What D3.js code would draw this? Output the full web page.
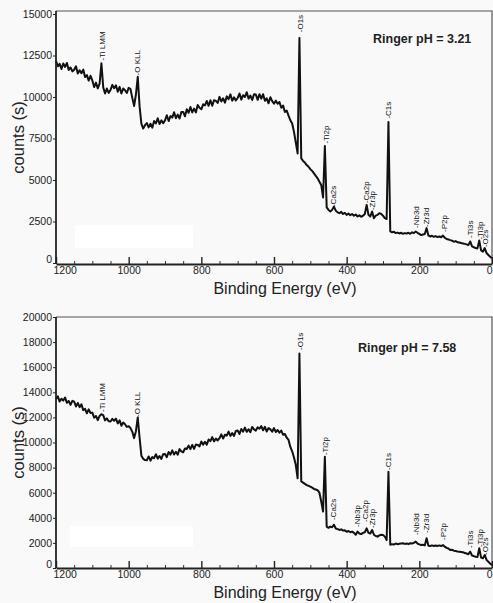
<!DOCTYPE html>
<html>
<head>
    <meta charset="utf-8">
    <script src="https://d3js.org/d3.v7.min.js"></script>
    <style>
        body { margin: 0; background: #f9f9f9; }
        svg { display: block; font-family: "Liberation Sans", Arial, sans-serif; }
    </style>
</head>
<body>
<div id="my_dataviz"></div>
<script>
    // binding energy grid of the survey scans, 1200 -> 0 eV, 5 eV step
    var energy = d3.range(1200, -1, -5);

    // counts (s), Ringer pH = 3.21
    var countsPH321 = [
        12180, 11850, 12000, 11690, 12020, 11810, 12050, 11630, 11780, 11540,
        11640, 11850, 11410, 11610, 11430, 11650, 11200, 11320, 10990, 11280,
        11000, 10600, 10870, 10520, 10800, 12030, 10580, 10210, 10510, 10250,
        10420, 10730, 10530, 10700, 10320, 10610, 10210, 10510, 10410, 10240,
        10550, 10480, 9950, 9450, 10150, 11220, 9450, 8400, 8100, 8300,
        8430, 8170, 8390, 8150, 8550, 8410, 8720, 8370, 8590, 8420,
        8590, 8900, 8550, 8850, 8760, 9080, 8720, 8940, 8700, 9090,
        9100, 8840, 9260, 9050, 9400, 9070, 9300, 9070, 9520, 9350,
        9260, 9560, 9500, 9760, 9470, 9800, 9470, 9810, 9770, 9640,
        10010, 9730, 9920, 9660, 10040, 9870, 10160, 9780, 9980, 9790,
        9940, 10210, 9840, 10110, 10000, 10290, 9900, 10090, 9820, 10170,
        10150, 9830, 10170, 9900, 10170, 9770, 9920, 9620, 9990, 9750,
        9600, 9780, 9600, 9700, 9350, 9480, 9100, 9180, 8880, 8600,
        8400, 7900, 7250, 6600, 13550, 6300, 6150, 6050, 5900, 5800,
        5650, 5550, 5400, 5250, 5100, 4900, 4700, 3950, 7050, 3350,
        3200, 3100, 3200, 3400, 3150, 3050, 3000, 3080, 2950, 3020,
        2900, 2980, 2880, 2950, 2850, 2920, 2800, 2870, 2780, 2850,
        2950, 3500, 2900, 2800, 3100, 2700, 2850, 2900, 3000, 2950,
        2850, 2700, 2650, 8500, 1900, 1850, 1880, 1800, 1830, 1780,
        1820, 1760, 1800, 1780, 1820, 1760, 1850, 1800, 1900, 1820,
        1750, 1680, 1720, 1750, 2100, 1650, 1600, 1640, 1580, 1620,
        1560, 1600, 1550, 1650, 1520, 1450, 1420, 1380, 1350, 1280,
        1320, 1250, 1230, 1200, 1180, 1150, 1120, 1080, 1300, 1000,
        950, 900, 880, 1350, 760, 680, 900, 600, 480, 380,
        280
    ];

    // counts (s), Ringer pH = 7.58
    var countsPH758 = [
        13440, 13680, 13260, 13490, 13340, 13580, 13160, 13310, 13000, 13320,
        13250, 12870, 13150, 12820, 13040, 12580, 12680, 12330, 12640, 12350,
        12380, 11980, 12110, 11780, 12120, 12250, 12180, 11760, 11920, 11690,
        11670, 11880, 11730, 11900, 11520, 11760, 11340, 11590, 11460, 11240,
        11300, 11150, 10850, 10350, 10900, 12000, 10400, 8950, 8700, 8600,
        8590, 8890, 8550, 8840, 8750, 9070, 8710, 8920, 8690, 9070,
        9090, 8830, 9240, 9030, 9370, 9040, 9260, 9030, 9470, 9300,
        9220, 9530, 9480, 9750, 9470, 9810, 9490, 9840, 9810, 9690,
        10080, 9830, 10060, 9830, 10240, 10110, 10430, 10090, 10320, 10160,
        10340, 10650, 10320, 10620, 10550, 10870, 10530, 10750, 10530, 10920,
        10950, 10680, 11080, 10860, 11190, 10850, 11060, 10820, 11240, 11050,
        10950, 11210, 11100, 11310, 10970, 11250, 10870, 11150, 11050, 10860,
        11150, 10830, 11000, 10780, 10950, 10620, 10680, 10380, 10200, 9650,
        9300, 8800, 8200, 7150, 17100, 6900, 6800, 6700, 6600, 6550,
        6480, 6400, 6300, 6250, 6200, 6000, 5300, 4500, 8870, 3300,
        3200, 3300, 3250, 3450, 3150, 3100, 3030, 3080, 2980, 3000,
        2890, 2950, 2850, 2900, 2800, 2650, 2900, 2750, 2700, 2800,
        2850, 3160, 2800, 2750, 3030, 2650, 2550, 2500, 2600, 2650,
        2630, 2500, 2230, 7670, 1850, 1900, 1870, 1950, 1900, 1930,
        1960, 1970, 1920, 1950, 1900, 1980, 1950, 2000, 2100, 1950,
        1880, 1830, 1850, 1800, 2370, 1780, 1750, 1800, 1760, 1790,
        1760, 1800, 1750, 1830, 1700, 1600, 1550, 1430, 1450, 1380,
        1350, 1320, 1300, 1280, 1250, 1200, 1150, 1100, 1300, 1000,
        950, 900, 880, 1570, 830, 770, 1040, 650, 500, 350,
        240
    ];

    var xTicks = [1200, 1000, 800, 600, 400, 200, 0];
    var xMinorTicks = [1150, 1100, 1050, 950, 900, 850, 750, 700, 650, 550, 500, 450, 350, 300, 250, 150, 100, 50];
    var yTicksTop = [0, 2500, 5000, 7500, 10000, 12500, 15000];
    var yTicksBottom = [0, 2000, 4000, 6000, 8000, 10000, 12000, 14000, 16000, 18000, 20000];

    // peak labels: name, energy (eV), count where the label starts
    var peaksTop = ["Ti LMM", "O KLL", "O1s", "Ti2p", "Ca2s", "Ca2p", "Zr3p", "C1s", "Nb3d", "Zr3d", "P2p", "Ti3s", "Ti3p", "O2s"];
    var peaksTopE = [1074, 977, 529, 457, 437, 347, 331, 285, 209, 180, 131, 59, 33, 19];
    var peaksTopC = [12200, 11300, 13900, 7200, 3370, 3610, 3190, 8700, 2110, 2170, 1870, 1510, 1420, 960];

    var peaksBottom = ["Ti LMM", "O KLL", "O1s", "Ti2p", "Ca2s", "Nb3p", "Ca2p", "Zr3p", "C1s", "Nb3d", "Zr3d", "P2p", "Ti3s", "Ti3p", "O2s"];
    var peaksBottomE = [1074, 976, 529, 458, 438, 370, 349, 331, 285, 209, 182, 134, 61, 33, 19];
    var peaksBottomC = [12430, 12030, 17370, 9000, 3820, 3270, 3670, 3190, 7810, 2630, 2790, 2230, 1590, 1670, 1040];

    var width = 493, height = 603;
    var left = 56, right = 492;

    var svg = d3.select("#my_dataviz")
        .append("svg")
        .attr("width", width)
        .attr("height", height);

    // binding energy runs right to left
    var x = d3.scaleLinear().domain([1200, 0]).range([left, right]);

    function drawPanel(p) {
        var y = d3.scaleLinear().domain([0, p.yMax]).range([p.y0, p.y1]);
        var g = svg.append("g");

        // white patch left over from the erased legend
        g.append("rect")
            .attr("x", p.patch[0]).attr("y", p.patch[1])
            .attr("width", p.patch[2]).attr("height", p.patch[3])
            .attr("fill", "#ffffff");

        // top and right edge of the frame
        g.append("path")
            .attr("d", "M" + left + "," + p.top + "H" + right + "V" + p.bottom)
            .attr("fill", "none")
            .attr("stroke", "#555")
            .attr("stroke-width", 1.2);

        // the spectrum
        g.append("path")
            .datum(p.counts)
            .attr("fill", "none")
            .attr("stroke", "#111")
            .attr("stroke-width", 2)
            .attr("stroke-linejoin", "round")
            .attr("d", d3.line()
                .x(function (d, i) { return x(energy[i]); })
                .y(function (d) { return y(d); })
            );

        // peak assignments
        g.selectAll(".peak")
            .data(p.names)
            .enter()
            .append("text")
            .attr("class", "peak")
            .attr("transform", function (d, i) {
                return "translate(" + x(p.peakE[i]) + "," + y(p.peakC[i]) + ") rotate(-90)";
            })
            .attr("dy", "0.35em")
            .style("font-size", "8px")
            .style("fill", "#111")
            .text(function (d) { return "-" + d; });

        // minor x ticks, inside
        g.append("g")
            .attr("transform", "translate(0," + p.bottom + ")")
            .call(d3.axisBottom(x).tickValues(xMinorTicks).tickSize(-3).tickFormat(""))
            .call(function (a) { a.select(".domain").remove(); a.selectAll("line").attr("stroke", "#333"); });

        // major x ticks with labels
        var xa = g.append("g")
            .attr("transform", "translate(0," + p.bottom + ")")
            .call(d3.axisBottom(x).tickValues(xTicks).tickSize(-7).tickSizeOuter(0)
                .tickPadding(3).tickFormat(d3.format("d")));
        xa.select(".domain").attr("stroke", "#222").attr("stroke-width", 1.8);
        xa.selectAll("line").attr("stroke", "#222").attr("stroke-width", 1.4);
        xa.selectAll("text")
            .style("font-size", "10.5px")
            .style("fill", "#222")
            .attr("font-family", null);
        xa.selectAll("text").filter(function (d) { return d === 1200; })
            .attr("text-anchor", "start").attr("dx", -3);
        xa.selectAll("text").filter(function (d) { return d === 0; })
            .attr("text-anchor", "end");

        // y axis
        var ya = g.append("g")
            .attr("transform", "translate(" + left + ",0)")
            .call(d3.axisLeft(y).tickValues(p.yTicks).tickSize(3).tickSizeOuter(0)
                .tickPadding(1).tickFormat(d3.format("d")));
        ya.select(".domain").remove();
        ya.selectAll("line").attr("stroke", "#222");
        ya.selectAll("text")
            .style("font-size", "10.5px")
            .style("fill", "#222")
            .attr("font-family", null);
        ya.selectAll("text").filter(function (d) { return d === 0; }).attr("y", -4);

        g.append("line")
            .attr("x1", left).attr("x2", left)
            .attr("y1", p.top).attr("y2", p.bottom)
            .attr("stroke", "#222")
            .attr("stroke-width", 1.8);

        // axis titles
        g.append("text")
            .attr("x", 285)
            .attr("y", p.bottom + 30)
            .style("text-anchor", "middle")
            .style("font-size", "16px")
            .style("fill", "#222")
            .text("Binding Energy (eV)");

        g.append("text")
            .attr("transform", "translate(24," + ((p.top + p.bottom) / 2) + ") rotate(-90)")
            .style("text-anchor", "middle")
            .style("font-size", "16.5px")
            .style("fill", "#222")
            .text("counts (s)");

        g.append("text")
            .attr("x", p.noteX)
            .attr("y", p.noteY)
            .style("font-size", "12.5px")
            .style("font-weight", "bold")
            .style("fill", "#222")
            .text(p.note);
    }

    drawPanel({
        top: 11, bottom: 264, y0: 263, y1: 14, yMax: 15000,
        yTicks: yTicksTop, counts: countsPH321,
        names: peaksTop, peakE: peaksTopE, peakC: peaksTopC,
        note: "Ringer pH = 3.21", noteX: 373, noteY: 43,
        patch: [75, 225, 118, 23]
    });

    drawPanel({
        top: 317, bottom: 568, y0: 568, y1: 317, yMax: 20000,
        yTicks: yTicksBottom, counts: countsPH758,
        names: peaksBottom, peakE: peaksBottomE, peakC: peaksBottomC,
        note: "Ringer pH = 7.58", noteX: 358, noteY: 352,
        patch: [70, 526, 123, 21]
    });
</script>
</body>
</html>
